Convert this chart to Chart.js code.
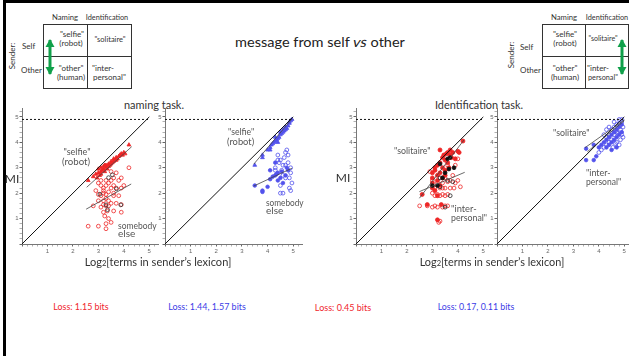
<!DOCTYPE html>
<html><head><meta charset="utf-8">
<script src="https://cdn.jsdelivr.net/npm/chart.js@4/dist/chart.umd.min.js"></script>
<style>
html,body{margin:0;padding:0;background:#fff;}
#slide{position:relative;width:629px;height:356px;overflow:hidden;font-family:Lato,"Liberation Sans",sans-serif;color:#222;background:#fff;}
.t{position:absolute;white-space:nowrap;line-height:1;}
.c{transform:translate(-50%,-50%);transform-origin:50% 50%;}
.l{transform:translate(0,-50%);transform-origin:0 50%;}
.tb{font-size:8px;color:#333;}
.an{font-size:10px;color:#555;}
canvas.panel{position:absolute;}
.box{position:absolute;border:1.3px solid #333;box-sizing:border-box;}
.vl{position:absolute;width:1.3px;background:#333;}
.hl{position:absolute;height:1.3px;background:#333;}
.sk{display:inline-block;transform:skewX(-13deg);}
</style>
</head><body>
<div id="slide">
  <!-- slide border -->
  <div style="position:absolute;left:3px;top:0;width:626px;height:3px;background:#000"></div>
  <div style="position:absolute;left:3px;top:0;width:3px;height:356px;background:#000"></div>

  <!-- left table -->
  <div class="t c tb" data-w="26" style="left:65px;top:17px">Naming</div>
  <div class="t c tb" data-w="42" style="left:107px;top:17px">Identification</div>
  <div class="t c tb" style="left:12px;top:56px;transform:translate(-50%,-50%) rotate(-90deg)">Sender:</div>
  <div class="t l tb" style="left:22px;top:46px">Self</div>
  <div class="t l tb" style="left:21px;top:70px">Other</div>
  <div class="box" style="left:43px;top:24px;width:89px;height:65px"></div>
  <div class="vl" style="left:87px;top:24px;height:65px"></div>
  <div class="hl" style="left:43px;top:56px;width:89px"></div>
  <div class="t c tb" style="left:72px;top:34px">"selfie"</div>
  <div class="t c tb" style="left:71px;top:43px">(robot)</div>
  <div class="t c tb" data-w="31" style="left:110px;top:39px">"solitaire"</div>
  <div class="t c tb" style="left:71px;top:68px">"other"</div>
  <div class="t c tb" style="left:71px;top:77px">(human)</div>
  <div class="t l tb" style="left:92px;top:68px">"inter-</div>
  <div class="t l tb" data-w="33" style="left:93px;top:77px">personal"</div>
  <svg style="position:absolute;left:43px;top:36px" width="14" height="42">
    <path d="M7,4 L7,38" stroke="#10a04a" stroke-width="3"/>
    <path d="M2.5,11 L7,3 L11.5,11 Z" fill="#10a04a"/>
    <path d="M2.5,31 L7,39 L11.5,31 Z" fill="#10a04a"/>
  </svg>

  <!-- right table -->
  <div class="t c tb" data-w="26" style="left:564px;top:17px">Naming</div>
  <div class="t c tb" data-w="42" style="left:607px;top:17px">Identification</div>
  <div class="t c tb" style="left:511px;top:55px;transform:translate(-50%,-50%) rotate(-90deg)">Sender:</div>
  <div class="t l tb" style="left:520px;top:47px">Self</div>
  <div class="t l tb" style="left:520px;top:70px">Other</div>
  <div class="box" style="left:542px;top:24px;width:87px;height:65px"></div>
  <div class="vl" style="left:585px;top:24px;height:65px"></div>
  <div class="hl" style="left:542px;top:56px;width:87px"></div>
  <div class="t c tb" style="left:565px;top:34px">"selfie"</div>
  <div class="t c tb" style="left:565px;top:43px">(robot)</div>
  <div class="t c tb" data-w="29" style="left:603px;top:38px">"solitaire"</div>
  <div class="t c tb" style="left:565px;top:68px">"other"</div>
  <div class="t c tb" style="left:565px;top:77px">(human)</div>
  <div class="t l tb" style="left:587px;top:68px">"inter-</div>
  <div class="t l tb" data-w="30" style="left:588px;top:77px">personal"</div>
  <svg style="position:absolute;left:615px;top:36px" width="14" height="42">
    <path d="M7,4 L7,38" stroke="#10a04a" stroke-width="3"/>
    <path d="M2.5,11 L7,3 L11.5,11 Z" fill="#10a04a"/>
    <path d="M2.5,31 L7,39 L11.5,31 Z" fill="#10a04a"/>
  </svg>

  <!-- title -->
  <div class="t c" data-w="170" style="left:320px;top:42px;font-size:14px;color:#222">message from self <span class="sk">vs</span> other</div>

  <!-- panel titles -->
  <div class="t c" data-w="60" style="left:154px;top:105px;font-size:11.5px;color:#333">naming task.</div>
  <div class="t c" data-w="88" style="left:479px;top:105px;font-size:11.5px;color:#333">Identification task.</div>

  <canvas id="p1" class="panel"></canvas>
  <canvas id="p2" class="panel"></canvas>
  <canvas id="p3" class="panel"></canvas>
  <canvas id="p4" class="panel"></canvas>

  <!-- axis titles -->
  <div class="t c" style="left:12px;top:179px;font-size:12px;color:#333">MI</div>
  <div class="t c" style="left:343px;top:178px;font-size:12px;color:#333">MI</div>
  <div class="t c" data-w="147" style="left:158px;top:262px;font-size:11.5px;color:#333">Log<span style="font-size:8px">2</span>[terms in sender’s lexicon]</div>
  <div class="t c" data-w="145" style="left:492px;top:262px;font-size:11.5px;color:#333">Log<span style="font-size:8px">2</span>[terms in sender’s lexicon]</div>

  <!-- in-plot annotations -->
  <div class="t c an" data-w="27" style="left:77px;top:151px">"selfie"</div>
  <div class="t c an" data-w="28" style="left:76px;top:161px">(robot)</div>
  <div class="t l an" data-w="39" style="left:118px;top:225px">somebody</div>
  <div class="t l an" style="left:118px;top:233px">else</div>
  <div class="t l an" data-w="26" style="left:228px;top:131px">"selfie"</div>
  <div class="t l an" data-w="27" style="left:227px;top:141px">(robot)</div>
  <div class="t l an" data-w="38" style="left:266px;top:202px">somebody</div>
  <div class="t l an" style="left:266px;top:210px">else</div>
  <div class="t l an" data-w="37" style="left:394px;top:150px">"solitaire"</div>
  <div class="t l an" data-w="26" style="left:451px;top:208px">"inter-</div>
  <div class="t l an" data-w="36" style="left:451px;top:217px">personal"</div>
  <div class="t l an" data-w="37" style="left:553px;top:132px">"solitaire"</div>
  <div class="t l an" data-w="25" style="left:586px;top:172px">"inter-</div>
  <div class="t l an" data-w="35" style="left:586px;top:181px">personal"</div>

  <!-- losses -->
  <div class="t c" data-w="55" style="left:81px;top:307px;font-size:9.5px;color:#f0242c">Loss: 1.15 bits</div>
  <div class="t c" data-w="78" style="left:207px;top:307px;font-size:9.5px;color:#3b3be6">Loss: 1.44, 1.57 bits</div>
  <div class="t c" data-w="56" style="left:343px;top:308px;font-size:9.5px;color:#f0242c">Loss: 0.45 bits</div>
  <div class="t c" data-w="77" style="left:476px;top:307px;font-size:9.5px;color:#3b3be6">Loss: 0.17, 0.11 bits</div>
</div>

<script>
// ---------- data ----------
const axisTickLabels = [1, 2, 3, 4, 5];
const identityLine = [[0, 0], [5, 5]];
const ceilingLine = [[0, 4.9], [5, 4.9]];

// naming task, red (self = "selfie"/robot, other = somebody else)
const p1Self = [[2.6,2.5],[2.8,2.65],[2.9,2.75],[2.95,2.6],[3.0,2.8],[3.0,2.95],[3.05,2.7],[3.1,2.85],[3.1,3.0],[3.15,2.9],
  [3.2,2.95],[3.2,3.05],[3.25,2.85],[3.3,3.0],[3.3,3.1],[3.35,2.95],[3.4,3.05],[3.4,3.15],[3.45,3.1],[3.5,3.15],
  [3.5,3.25],[3.55,3.2],[3.6,3.25],[3.6,3.35],[3.65,3.3],[3.7,3.3],[3.7,3.4],[3.75,3.35],[3.8,3.45],[3.85,3.5],
  [3.9,3.55],[3.95,3.5],[4.0,3.6],[4.05,3.55],[4.2,3.9],[3.1,2.75],[3.25,3.1]];
const p1Other = [[2.6,0.7],[3.0,0.7],[3.3,0.6],[3.3,0.8],[3.5,0.85],[3.4,1.0],[3.25,1.1],[3.2,1.25],[3.35,1.3],[3.6,1.3],
  [3.9,1.25],[3.9,1.55],[2.8,1.5],[3.1,1.45],[3.0,1.7],[3.2,1.7],[3.3,1.8],[3.4,1.7],[3.5,1.6],[3.7,1.6],
  [3.1,1.9],[3.2,2.0],[3.3,1.95],[3.4,2.05],[3.6,1.9],[3.5,2.2],[3.2,2.2],[3.3,2.3],[3.1,2.3],[3.4,2.4],
  [3.6,2.3],[3.7,2.2],[3.9,2.2],[4.0,2.3],[2.9,2.1],[3.1,2.5],[3.3,2.5],[3.5,2.5],[3.6,2.6],[3.8,2.5],
  [3.9,2.6],[3.7,2.8],[3.5,2.85],[4.2,3.0],[3.2,2.1],[3.0,2.4],[3.8,1.9],[3.4,1.5],[3.3,1.5],[3.2,1.55],
  [3.6,2.0],[3.0,1.95]];
const p1Black = [[3.4,2.61],[3.55,2.72],[3.71,2.17],[3.06,1.96],[3.3,1.54],[3.88,1.54],[3.36,1.35]];
const p1SelfFit = [[2.54,2.23],[4.31,3.83]];
const p1OtherFit = [[2.52,1.37],[4.29,2.36]];

// naming task, blue
const p2Self = [[3.5,3.1],[3.8,3.4],[3.8,3.5],[4.0,3.7],[4.1,3.8],[4.15,3.9],[4.2,3.95],[4.25,4.0],[4.3,4.05],[4.35,4.1],
  [4.4,4.15],[4.45,4.2],[4.5,4.3],[4.55,4.35],[4.6,4.4],[4.65,4.45],[4.7,4.5],[4.75,4.55],[4.8,4.65],[4.85,4.75],
  [4.9,4.85],[4.95,4.9],[4.3,4.2],[4.5,4.4],[4.6,4.5],[4.7,4.6],[4.85,4.8],[4.1,3.7],[4.4,4.0]];
const p2OtherFilled = [[3.5,2.3],[3.8,2.1],[3.8,2.05],[4.0,2.25],[4.1,2.55],[4.1,2.9],[4.2,2.65],[4.3,2.7],[4.35,2.75],
  [4.4,2.8],[4.5,2.6],[4.6,2.4],[4.7,2.7],[4.75,3.0],[4.3,3.2],[4.4,2.5],[4.55,2.85],[4.8,2.9]];
const p2OtherOpen = [[4.3,3.0],[4.4,3.3],[4.45,3.2],[4.5,2.3],[4.5,2.0],[4.6,2.0],[4.7,3.6],[4.75,3.7],[4.8,3.5],[4.6,3.1],
  [4.7,3.1],[4.8,3.2],[4.9,3.0],[4.9,2.8],[4.95,2.4],[4.85,2.2],[4.9,2.1],[4.6,2.7],[4.7,2.6],[4.5,3.3],
  [4.4,3.5],[4.65,3.4],[4.85,2.6],[4.3,2.9],[4.55,2.9]];
const p2SelfFit = [[3.46,3.14],[4.95,4.92]];
const p2OtherFit = [[3.46,2.28],[4.95,2.98]];

// identification task, red
const p3Self = [[2.6,1.95],[2.8,1.55],[3.0,2.8],[3.0,2.6],[3.0,2.4],[3.1,2.9],[3.1,3.0],[3.2,2.7],[3.2,3.1],[3.2,2.5],
  [3.3,3.2],[3.3,3.7],[3.3,2.8],[3.35,1.55],[3.4,3.4],[3.4,3.0],[3.45,3.5],[3.5,2.7],[3.5,3.3],[3.55,3.55],
  [3.6,3.6],[3.6,3.2],[3.65,3.0],[3.7,3.5],[3.7,3.7],[3.75,3.4],[3.8,3.6],[3.9,3.35],[4.0,3.65],[4.05,3.6],
  [4.2,4.05],[3.2,0.95],[3.0,2.2],[3.1,2.1],[3.3,2.3],[3.4,2.6],[3.5,2.9],[3.2,1.9]];
const p3SelfBlack = [[3.2,2.3],[3.3,3.15],[3.4,2.6],[3.5,2.8],[3.6,3.35],[3.65,2.95],[3.7,3.4],[3.85,3.0],[3.0,2.3]];
const p3Other = [[2.5,1.5],[2.8,1.5],[2.9,2.85],[3.0,1.45],[3.1,1.5],[3.2,1.45],[3.25,0.85],[3.3,0.9],[3.0,2.0],[3.1,1.9],
  [3.2,1.95],[3.3,1.9],[3.4,1.95],[3.5,1.9],[3.6,1.95],[3.1,2.2],[3.3,2.2],[3.5,2.2],[3.7,2.2],[3.85,2.2],
  [4.1,2.25],[3.4,2.4],[3.6,2.45],[3.9,2.4],[4.0,2.5],[3.5,2.6],[3.8,2.7],[3.9,3.1],[4.0,3.35],[3.6,3.1],
  [3.4,2.2],[3.2,2.4],[3.0,2.5],[3.6,1.5],[3.4,1.45],[3.5,1.5],[3.7,2.5]];
const p3OtherBlack = [[3.3,2.25],[3.6,2.5],[3.7,1.9],[3.5,1.45],[3.3,2.6],[3.8,2.45]];
const p3SelfFit = [[2.49,1.8],[4.24,4.09]];
const p3OtherFit = [[2.49,2.06],[4.27,2.82]];

// identification task, blue
const p4Self = [[3.5,3.75],[3.5,3.3],[3.8,3.3],[3.8,3.9],[3.9,3.45],[4.0,3.8],[4.1,3.9],[4.2,4.0],[4.3,4.1],[4.4,4.2],
  [4.5,4.3],[4.6,4.4],[4.7,4.5],[4.8,4.6],[4.9,4.7],[4.4,3.9],[4.5,4.0],[4.6,4.1],[4.7,4.2],[4.8,4.3],
  [4.9,4.4],[4.3,3.8],[4.5,3.7],[4.7,3.8]];
const p4Other = [[4.3,4.5],[4.4,4.6],[4.5,4.5],[4.6,4.6],[4.7,4.7],[4.8,4.75],[4.9,4.8],[4.95,4.6],[4.9,4.3],[4.85,4.1],
  [4.8,3.9],[4.7,4.0],[4.6,4.3],[4.5,4.1],[4.4,4.0],[4.3,3.9],[4.2,3.8],[4.1,3.7],[4.0,3.6],[4.55,3.8],
  [4.65,3.95],[4.75,4.35],[4.85,4.5],[4.95,4.2],[4.2,4.3],[4.6,4.8],[4.8,4.9],[4.9,4.9],[4.7,4.4],[4.4,4.3],[4.3,4.2]];
const p4SelfFit = [[3.46,3.79],[5.0,4.88]];
const p4OtherFit = [[3.55,3.63],[5.0,4.85]];

// ---------- drawing ----------
const RED = '#ee2626', BLUE = '#5252ec', XMAX = 5.35;
const toXY = a => a.map(([x, y]) => ({x, y}));
const lineDS = (pts, color, w, dash) => ({data: toXY(pts), showLine: true, pointRadius: 0, borderColor: color,
  borderWidth: w, borderDash: dash || [], fill: false});
const ptDS = (pts, style, fill, border, r) => ({data: toXY(pts), showLine: false, pointStyle: style, pointRadius: r,
  backgroundColor: fill, borderColor: border, borderWidth: 0.8});
const isMajor = v => Math.abs(v - Math.round(v)) < 1e-6;

function panel(id, x0, sx, datasets) {
  const c = document.getElementById(id);
  const W = Math.round(14 + XMAX * sx + 4), H = 156;
  c.width = W; c.height = H; c.style.width = W + 'px'; c.style.height = H + 'px';
  c.style.left = (x0 - 14) + 'px'; c.style.top = '100px';
  const axis = (fit) => ({
    type: 'linear', min: 0, max: XMAX, afterFit: fit,
    border: {color: '#777', width: 1},
    grid: {drawOnChartArea: false, tickLength: 2.5, color: ctx => (ctx.tick && isMajor(ctx.tick.value)) ? '#666' : '#b0b0b0'},
    ticks: {stepSize: 0.2, autoSkip: false, includeBounds: false, maxRotation: 0, padding: 1,
      font: {size: 6, family: 'Liberation Sans'}, color: '#666',
      callback: v => (isMajor(v) && axisTickLabels.includes(Math.round(v))) ? String(Math.round(v)) : ''}
  });
  new Chart(c, {
    type: 'scatter',
    data: {datasets},
    options: {
      responsive: false, animation: false, events: [],
      plugins: {legend: {display: false}, tooltip: {enabled: false}},
      layout: {padding: {top: 8, right: 4, left: 0, bottom: 0}},
      scales: {x: axis(s => { s.height = 12; }), y: axis(s => { s.width = 14; })}
    }
  });
}

const common = () => [lineDS(identityLine, '#111', 1), lineDS(ceilingLine, '#111', 1, [2, 2])];
const OPEN = 'rgba(255,255,255,0)';

panel('p1', 22, 25.7, [
  lineDS(p1SelfFit, '#444', 0.8), lineDS(p1OtherFit, '#444', 0.8), ...common(),
  ptDS(p1Black, 'circle', OPEN, '#333', 1.9),
  ptDS(p1Self, 'triangle', RED, RED, 2.2),
  ptDS(p1Other, 'circle', OPEN, RED, 1.9)
]);
panel('p2', 165, 25.8, [
  lineDS(p2SelfFit, '#444', 0.8), lineDS(p2OtherFit, '#444', 0.8), ...common(),
  ptDS(p2Self, 'triangle', BLUE, BLUE, 2.2),
  ptDS(p2OtherFilled, 'circle', BLUE, BLUE, 1.8),
  ptDS(p2OtherOpen, 'circle', OPEN, BLUE, 1.9)
]);
panel('p3', 356, 25.7, [
  lineDS(p3SelfFit, '#444', 0.8), lineDS(p3OtherFit, '#444', 0.8), ...common(),
  ptDS(p3SelfBlack, 'circle', '#111', '#111', 1.9),
  ptDS(p3OtherBlack, 'circle', OPEN, '#222', 1.9),
  ptDS(p3Self, 'circle', RED, RED, 2.0),
  ptDS(p3Other, 'circle', OPEN, RED, 1.9)
]);
panel('p4', 497, 25.7, [
  lineDS(p4SelfFit, '#444', 0.8), lineDS(p4OtherFit, '#444', 0.8), ...common(),
  ptDS(p4Self, 'circle', BLUE, BLUE, 1.8),
  ptDS(p4Other, 'circle', OPEN, BLUE, 1.9)
]);

// fit text widths to the reference layout
function fitTexts() {
  document.querySelectorAll('[data-w]').forEach(el => {
    const w = el.offsetWidth, target = +el.dataset.w;
    if (!w) return;
    const k = target / w;
    const base = el.classList.contains('l') ? 'translate(0,-50%)' : 'translate(-50%,-50%)';
    el.style.transform = base + ' scaleX(' + k.toFixed(3) + ')';
  });
}
fitTexts();
if (document.fonts && document.fonts.ready) document.fonts.ready.then(fitTexts);
</script>
</body></html>
